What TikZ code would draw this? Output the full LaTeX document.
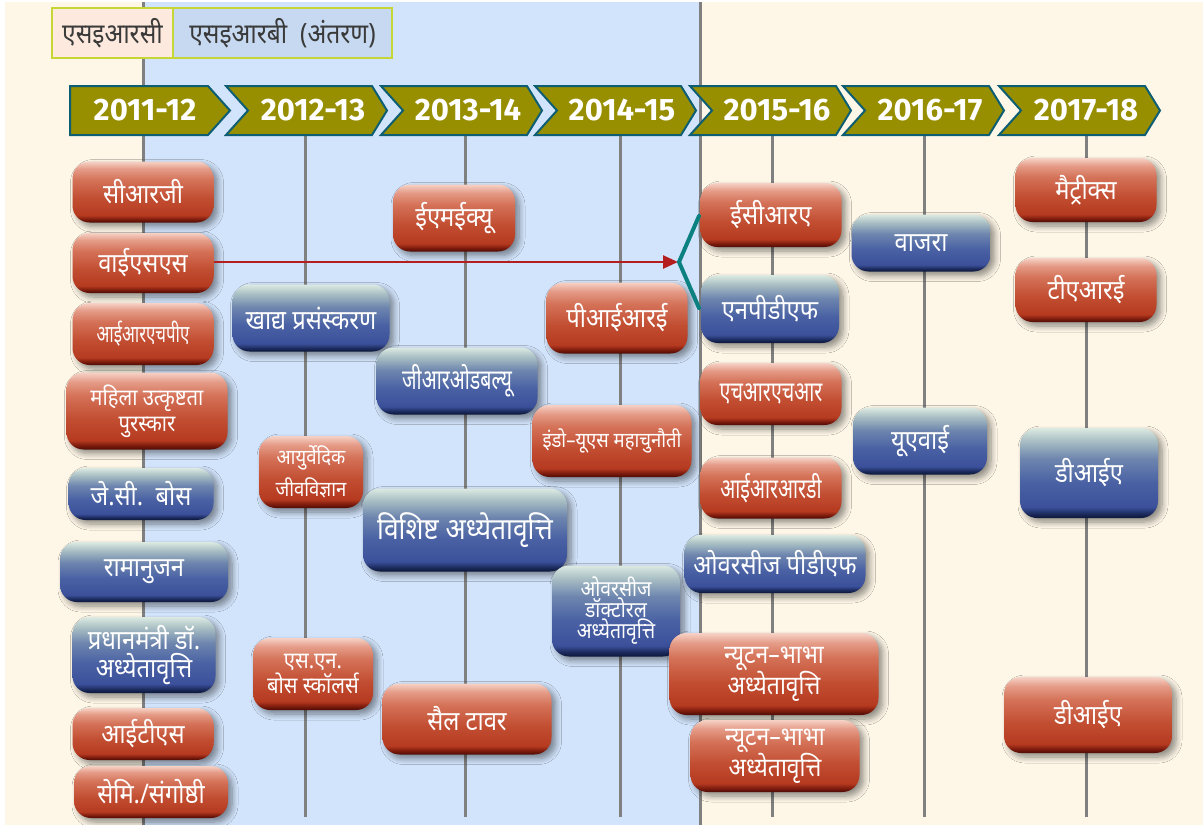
\documentclass[tikz,border=0pt]{standalone}
\usepackage{fontspec}
\newfontfamily\dev[Script=Devanagari, FakeStretch=0.88]{Noto Sans}
\newfontfamily\devc[Script=Devanagari, FakeStretch=0.7]{Noto Sans}
\newfontfamily\yearfont{Fira Sans}
\usetikzlibrary{shadows.blur,arrows.meta}
\definecolor{cream}{HTML}{FEF7E8}
\definecolor{paleblue}{HTML}{D2E4FB}
\definecolor{gridgray}{HTML}{808080}
\definecolor{olive}{HTML}{978F00}
\definecolor{chevborder}{HTML}{0D5E72}
\definecolor{legpink}{HTML}{FDE9DD}
\definecolor{legblue}{HTML}{C6D9F1}
\definecolor{legborder}{HTML}{C5D636}
\definecolor{legtext}{HTML}{3A3A3A}
\definecolor{arrred}{HTML}{B41E1E}
\definecolor{brkteal}{HTML}{0B8080}
\definecolor{rA}{HTML}{4D0C06}
\definecolor{rB}{HTML}{7A1A0C}
\definecolor{rC}{HTML}{B53A20}
\definecolor{rD}{HTML}{C24E32}
\definecolor{rE}{HTML}{D47258}
\definecolor{rF}{HTML}{E59C88}
\definecolor{rG}{HTML}{F6D2C6}
\definecolor{bA}{HTML}{0C1638}
\definecolor{bB}{HTML}{1C2B5E}
\definecolor{bC}{HTML}{3B509A}
\definecolor{bD}{HTML}{4A62A4}
\definecolor{bE}{HTML}{6E86AE}
\definecolor{bF}{HTML}{A9BFC4}
\definecolor{bG}{HTML}{DCEAE2}
\pgfdeclareverticalshading{redgloss}{100bp}{color(0bp)=(rA); color(25bp)=(rA); color(27.5bp)=(rB); color(31bp)=(rC); color(45bp)=(rD); color(60bp)=(rE); color(69bp)=(rF); color(75bp)=(rG); color(100bp)=(rG)}
\pgfdeclareverticalshading{bluegloss}{100bp}{color(0bp)=(bA); color(25bp)=(bA); color(27.5bp)=(bB); color(31bp)=(bC); color(45bp)=(bD); color(58bp)=(bE); color(68bp)=(bF); color(75bp)=(bG); color(100bp)=(bG)}
\tikzset{
  gridline/.style={draw=gridgray, line width=3pt},
  chev/.style={fill=olive, draw=chevborder, line width=2pt, line join=miter},
  yeartext/.style={text=white, font=\yearfont\bfseries\fontsize{31}{33}\selectfont, inner sep=0pt},
  legcell/.style={draw=legborder, line width=2.5pt, text=legtext, minimum height=50pt, font=\dev\fontsize{28}{30}\selectfont},
  pill/.style={rectangle, rounded corners=17pt, align=center, text=white, inner sep=1pt,
    font=\dev\fontsize{27}{29}\selectfont,
    blur shadow={shadow xshift=4pt, shadow yshift=-4pt, shadow blur radius=6pt, shadow blur steps=8, shadow opacity=45}},
  rednode/.style={pill, shading=redgloss},
  bluenode/.style={pill, shading=bluegloss},
  small/.style={font=\dev\fontsize{23}{26}\selectfont},
  fs/.style={font=\dev\fontsize{#1}{#1}\selectfont},
  fc/.style={font=\devc\fontsize{#1}{#1}\selectfont},
  arr/.style={draw=arrred, line width=2.5pt, -{Triangle[length=15pt,width=13pt]}},
  brk/.style={draw=brkteal, line width=4pt, line cap=round, line join=miter}
}
\begin{document}
\begin{tikzpicture}[x=1pt, y=-1pt]
\useasboundingbox (0,0) rectangle (1203,825);
% backgrounds
\fill[white] (0,0) rectangle (1203,825);
\fill[cream] (5,2) rectangle (1203,825);
\fill[paleblue] (143,2) rectangle (700,825);
% timeline lines
\draw[gridline] (143,2) -- (143,825);
\draw[gridline] (700,2) -- (700,825);
\foreach \x in {305,465,620,772,924,1086} {
  \draw[gridline] (\x,135) -- (\x,817);
}
% legend
\node[legcell, fill=legpink, minimum width=121pt] (lsrc) at (112.5,33) {एसइआरसी};
\node[legcell, fill=legblue, minimum width=219pt] (lserb) at (282.5,33) {एसइआरबी\ \ (अंतरण)};
% year chevrons
\draw[chev] (70,86) -- (208,86) -- (230,110.5) -- (208,135) -- (70,135) -- cycle;
\node[yeartext] (y1) at (145,110.5) {2011-12};
\foreach \s/\t/\n in {226/2012-13/y2, 381/2013-14/y3, 535/2014-15/y4, 690/2015-16/y5, 843/2016-17/y6, 999/2017-18/y7} {
  \draw[chev] (\s,86) -- ++(146,0) -- ++(15,24.5) -- ++(-15,24.5) -- ++(-146,0) -- ++(22,-24.5) -- cycle;
  \node[yeartext] (\n) at (\s+87,110.5) {\t};
}
% column 2011-12
\node[rednode, minimum width=141pt, minimum height=61pt] (crg) at (143,192) {सीआरजी};
\node[rednode, minimum width=141pt, minimum height=60pt] (yss) at (143,263) {वाईएसएस};
\node[rednode, fc=24, minimum width=141pt, minimum height=62pt] (irhpa) at (143,334) {आईआरएचपीए};
\node[rednode, small, minimum width=161pt, minimum height=77pt] (mahila) at (147,411) {महिला उत्कृष्टता\\पुरस्कार};
\node[bluenode, minimum width=145pt, minimum height=52pt] (jcbose) at (141,494) {जे.सी.\ \ बोस};
\node[bluenode, minimum width=168pt, minimum height=60pt] (ramanujan) at (144,572) {रामानुजन};
\node[bluenode, font=\dev\fontsize{27}{28}\selectfont, minimum width=143pt, minimum height=76pt] (pmdf) at (144,655) {प्रधानमंत्री डॉ.\\अध्येतावृत्ति};
\node[rednode, minimum width=141pt, minimum height=52pt] (its) at (143,734) {आईटीएस};
\node[rednode, minimum width=154pt, minimum height=52pt] (semi) at (151,792) {सेमि./संगोष्ठी};
% column 2012-13
\node[bluenode, minimum width=157pt, minimum height=67pt] (khadya) at (311,318) {खाद्य प्रसंस्करण};
\node[rednode, font=\dev\fontsize{21}{32}\selectfont, minimum width=104pt, minimum height=72pt] (ayur) at (311,472) {आयुर्वेदिक\\जीवविज्ञान};
\node[rednode, font=\dev\fontsize{23}{25}\selectfont, minimum width=120pt, minimum height=72pt] (snbose) at (313,674) {एस.एन.\\बोस स्कॉलर्स};
% column 2013-14
\node[rednode, minimum width=122pt, minimum height=67pt] (emeq) at (454,218) {ईएमईक्यू};
\node[bluenode, fc=28, minimum width=161pt, minimum height=67pt] (grow) at (457,381) {जीआरओडबल्यू};
\node[bluenode, font=\dev\fontsize{30}{32}\selectfont, minimum width=204pt, minimum height=83pt] (vishisht) at (465,530) {विशिष्ट अध्येतावृत्ति};
\node[rednode, minimum width=169pt, minimum height=71pt] (sail) at (467,719) {सैल टावर};
% column 2014-15
\node[rednode, minimum width=141pt, minimum height=71pt] (pire) at (617,318) {पीआईआरई};
\node[rednode, fs=21, minimum width=159pt, minimum height=72pt] (indo) at (612,441) {इंडो–यूएस महाचुनौती};
\node[bluenode, font=\dev\fontsize{22}{20}\selectfont, minimum width=128pt, minimum height=91pt] (odf) at (616,611) {ओवरसीज\\डॉक्टोरल\\अध्येतावृत्ति};
% column 2015-16
\node[rednode, minimum width=141pt, minimum height=64pt] (ecra) at (771,215) {ईसीआरए};
\node[bluenode, minimum width=138pt, minimum height=68pt] (npdf) at (770,309) {एनपीडीएफ};
\node[rednode, fc=28, minimum width=141pt, minimum height=62pt] (hrhr) at (771,394) {एचआरएचआर};
\node[rednode, fc=28, minimum width=141pt, minimum height=61pt] (irrd) at (771,488) {आईआरआरडी};
\node[bluenode, minimum width=181pt, minimum height=58pt] (opdf) at (775,564) {ओवरसीज पीडीएफ};
\node[rednode, font=\dev\fontsize{26}{24}\selectfont, minimum width=209pt, minimum height=82pt] (nb1) at (774,674) {न्यूटन–भाभा\\अध्येतावृत्ति};
\node[rednode, font=\dev\fontsize{26}{24}\selectfont, minimum width=169pt, minimum height=72pt] (nb2) at (775,756) {न्यूटन–भाभा\\अध्येतावृत्ति};
% column 2016-17
\node[bluenode, minimum width=139pt, minimum height=57pt] (vajra) at (921,243) {वाजरा};
\node[bluenode, minimum width=134pt, minimum height=67pt] (uay) at (920,441) {यूएवाई};
% column 2017-18
\node[rednode, minimum width=141pt, minimum height=64pt] (matrix) at (1086,190) {मैट्रीक्स};
\node[rednode, minimum width=141pt, minimum height=64pt] (tare) at (1086,290) {टीएआरई};
\node[bluenode, minimum width=138pt, minimum height=90pt] (dia1) at (1089,473) {डीआईए};
\node[rednode, minimum width=168pt, minimum height=76pt] (dia2) at (1088,715) {डीआईए};
% arrow and bracket
\coordinate (bv) at (679,262);
\coordinate (bt) at (699,216);
\coordinate (bb) at (699,308);
\draw[arr] (yss.east |- bv) -- ([xshift=-1pt]bv);
\draw[brk] (bt) -- (bv) -- (bb);
\end{tikzpicture}
\end{document}
